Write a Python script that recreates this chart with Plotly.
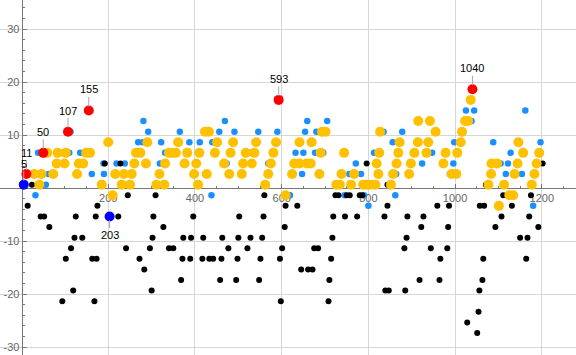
import plotly.graph_objects as go

# ---- data ----
yellow_x = [41, 185, 231, 250, 311, 329, 407, 562, 726, 734, 760, 788, 796, 805, 816, 852, 1077, 1113, 1177,
            29, 46, 73, 128, 216, 236, 254, 318, 398, 427, 479, 508, 569, 624, 687, 738, 767, 823, 857, 894, 992, 1003, 1083, 1137, 1183,
            81, 99, 132, 142, 260, 287, 331, 376, 403, 467, 511, 531, 575, 629, 641, 658, 667, 819, 865, 898, 973, 1084, 1097, 1144, 1188,
            59, 83, 102, 149, 158, 264, 274, 340, 348, 356, 382, 410, 446, 482, 517, 537, 581, 690, 744, 825, 869, 906, 934, 978, 1005, 1157, 1194,
            200, 290, 361, 451, 488, 541, 587, 641, 669, 872, 914, 938, 1013, 1146,
            423, 432, 693, 701, 827, 955, 1016,
            915, 942, 1023, 1030,
            1036,
            210, 609, 1125, 1134, 1101]
yellow_y = [0.65] * 19 + [2.65] * 25 + [4.65] * 25 + [6.65] * 27 + [8.65] * 14 + [10.65] * 7 + [12.65] * 4 + [16.65] + \
           [-1.35, -1.35, -1.35, -1.35, -3.35]

blue_x = [56,
          62, 162, 190, 647, 756, 783, 864, 988, 1117, 1154,
          189, 219, 238, 319, 473, 569, 771, 924, 996, 1087, 1105, 1122,
          38, 91, 110, 135, 331, 525, 632, 650, 677, 696, 813, 947, 1128,
          269, 279, 322, 387, 411, 440, 856, 998, 1088, 1197,
          113, 292, 365, 456, 491, 546, 590, 654, 680, 835, 878,
          281, 469, 659, 705, 1038,
          1025, 1044, 1162,
          32, 207, 438, 619, 745, 790, 862, 800, 1180]
blue_y = [0.65] + [2.65] * 10 + [4.65] * 12 + [6.65] * 13 + [8.65] * 10 + [10.65] * 11 + [12.65] * 5 + [14.65] * 3 + \
         [-1.35] * 7 + [-3.35] * 2

black_x = [24, 785, 844, 1071,
           192, 228, 796, 1202,
           245, 309, 560, 724, 731, 750, 757, 780, 786, 1111, 1175,
           14, 175, 609, 636, 844, 959, 986, 1057, 1067, 1131,
           44, 52, 125, 171, 223, 304, 396, 502, 558, 719, 746, 774, 837, 890, 927, 1107, 1171,
           64, 327, 607, 922, 984, 1093, 1192,
           122, 140, 302, 373, 391, 419, 463, 500, 528, 555, 717, 888, 1150, 1167,
           114, 241, 296, 340, 350, 477, 521, 601, 675, 684, 883, 944, 982,
           102, 163, 173, 272, 371, 389, 417, 433, 442, 461, 498, 551, 596, 714, 966, 1065, 1164,
           283, 645, 661, 671,
           368, 458, 495, 548, 710, 918, 964, 1063,
           119, 300, 839, 847, 885, 1056,
           94, 168, 598, 708,
           1054, 1028, 1051]
black_y = [0.65] * 4 + [4.65] * 4 + [-1.35] * 11 + [-3.35] * 10 + [-5.35] * 17 + [-7.35] * 7 + [-9.35] * 14 + \
          [-11.35] * 13 + [-13.35] * 17 + [-15.35] * 4 + [-17.35] * 8 + [-19.35] * 6 + [-21.35] * 4 + \
          [-23.35, -25.35, -27.35]

red_x = [11, 50, 107, 155, 593, 1040]
red_y = [2.65, 6.65, 10.65, 14.65, 16.65, 18.65]
red_labels = ["11", "50", "107", "155", "593", "1040"]

dblue_x = [5, 203]
dblue_y = [0.65, -5.35]
dblue_labels = ["5", "203"]
dblue_offsets = [-21, 19]

x_ticks = [200, 400, 600, 800, 1000, 1200]
y_ticks = [-30, -20, -10, 10, 20, 30]

# ---- figure ----
x_range = [-49.8, 1278.9]
y_range = [-31.5, 35.5]

fig = go.Figure()
fig.add_trace(go.Scatter(x=blue_x, y=blue_y, mode="markers",
                         marker=dict(color="#1a90ff", size=6.5, line=dict(width=0))))
fig.add_trace(go.Scatter(x=black_x, y=black_y, mode="markers",
                         marker=dict(color="black", size=6, line=dict(width=0))))
fig.add_trace(go.Scatter(x=yellow_x, y=yellow_y, mode="markers",
                         marker=dict(color="#ffc000", size=10, line=dict(width=0))))
fig.add_trace(go.Scatter(x=red_x, y=red_y, mode="markers",
                         marker=dict(color="#ff0000", size=10, line=dict(width=0))))
fig.add_trace(go.Scatter(x=dblue_x, y=dblue_y, mode="markers",
                         marker=dict(color="#0000ff", size=10, line=dict(width=0))))

lab_font = dict(family="Liberation Sans, Arial", size=11, color="black")
annots = []
for xv, yv, t in zip(red_x, red_y, red_labels):
    annots.append(dict(x=xv, y=yv, text=t, showarrow=True, arrowhead=0, ax=0, ay=-21,
                       arrowcolor="#a8a8a8", arrowwidth=1, standoff=4, font=lab_font))
for xv, yv, t, off in zip(dblue_x, dblue_y, dblue_labels, dblue_offsets):
    annots.append(dict(x=xv, y=yv, text=t, showarrow=True, arrowhead=0, ax=0, ay=off,
                       arrowcolor="#a8a8a8", arrowwidth=1, standoff=4, font=lab_font))

tickfont = dict(family="Liberation Sans, Arial", size=11, color="#666666")

fig.update_layout(
    width=576, height=355,
    margin=dict(l=0, r=0, t=0, b=0),
    paper_bgcolor="white", plot_bgcolor="white",
    showlegend=False,
    hovermode=False,
    annotations=annots,
    xaxis=dict(range=x_range, anchor="free", position=(0 - y_range[0]) / (y_range[1] - y_range[0]),
               tickmode="array", tickvals=x_ticks, ticktext=[str(v) for v in x_ticks],
               ticks="inside", ticklen=4, tickcolor="#777777", tickfont=tickfont,
               showline=True, linecolor="#777777", linewidth=1,
               showgrid=True, gridcolor="#d6d6d6", gridwidth=1, zeroline=False,
               minor=dict(ticks="inside", ticklen=2, tick0=0, dtick=50, tickcolor="#777777", showgrid=False),
               layer="below traces", automargin=False, fixedrange=True),
    yaxis=dict(range=y_range, anchor="free", position=(0 - x_range[0]) / (x_range[1] - x_range[0]),
               tickmode="array", tickvals=y_ticks, ticktext=[str(v) for v in y_ticks],
               ticks="inside", ticklen=4, tickcolor="#777777", tickfont=tickfont,
               showline=True, linecolor="#777777", linewidth=1,
               showgrid=True, gridcolor="#d6d6d6", gridwidth=1, zeroline=False,
               minor=dict(ticks="inside", ticklen=2, tick0=0, dtick=2, tickcolor="#777777", showgrid=False),
               layer="below traces", automargin=False, fixedrange=True),
)

fig.write_html("out.html", config={"displayModeBar": False, "staticPlot": True},
               post_script="document.body.style.margin='0';document.body.style.padding='0';")
